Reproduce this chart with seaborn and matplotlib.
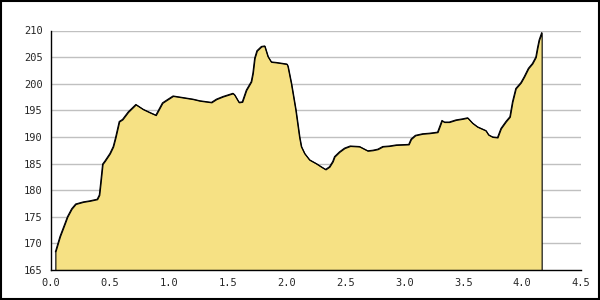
import numpy as np
import pandas as pd
import matplotlib
matplotlib.use("Agg")
import matplotlib.pyplot as plt
import seaborn as sns
from matplotlib.patches import Rectangle
from matplotlib.ticker import MultipleLocator

distance = [0.037, 0.076, 0.119, 0.139, 0.175, 0.209, 0.274, 0.33, 0.392, 0.41,
            0.421, 0.438, 0.458, 0.5, 0.528, 0.548, 0.579, 0.607, 0.655, 0.72,
            0.782, 0.839, 0.89, 0.946, 0.98, 1.036, 1.093, 1.206, 1.263, 1.362,
            1.404, 1.46, 1.545, 1.559, 1.596, 1.624, 1.658, 1.7, 1.714, 1.729,
            1.748, 1.786, 1.814, 1.842, 1.87, 1.913, 2.003, 2.011, 2.04, 2.078,
            2.11, 2.125, 2.153, 2.195, 2.252, 2.294, 2.331, 2.364, 2.392, 2.407,
            2.449, 2.492, 2.54, 2.619, 2.689, 2.731, 2.774, 2.816, 2.873, 2.93,
            3.037, 3.057, 3.093, 3.155, 3.212, 3.282, 3.319, 3.339, 3.381, 3.438,
            3.494, 3.537, 3.579, 3.621, 3.692, 3.715, 3.749, 3.791, 3.82, 3.862,
            3.896, 3.918, 3.946, 3.989, 4.017, 4.053, 4.087, 4.116, 4.13, 4.144,
            4.166]
elevation = [168.4, 171.3, 173.8, 175.0, 176.5, 177.4, 177.8, 178.0, 178.3, 179.1,
             181.3, 184.9, 185.5, 186.9, 188.2, 189.9, 192.9, 193.3, 194.7, 196.1,
             195.2, 194.6, 194.1, 196.4, 196.9, 197.7, 197.5, 197.1, 196.8, 196.5,
             197.1, 197.6, 198.2, 197.9, 196.5, 196.6, 198.8, 200.4, 202.0, 204.8,
             206.2, 207.0, 207.1, 205.1, 204.1, 204.0, 203.7, 203.3, 200.1, 195.1,
             190.0, 188.2, 186.9, 185.7, 185.0, 184.4, 183.9, 184.4, 185.4, 186.3,
             187.2, 187.9, 188.3, 188.2, 187.4, 187.5, 187.7, 188.2, 188.3, 188.5,
             188.6, 189.6, 190.3, 190.6, 190.7, 190.9, 193.1, 192.8, 192.8, 193.2,
             193.4, 193.6, 192.6, 191.9, 191.2, 190.4, 190.0, 189.9, 191.6, 192.9,
             193.8, 196.6, 199.1, 200.2, 201.3, 202.9, 203.8, 205.0, 206.7, 208.2,
             209.6]
x_ticks = [0.0, 0.5, 1.0, 1.5, 2.0, 2.5, 3.0, 3.5, 4.0, 4.5]
y_ticks = [165, 170, 175, 180, 185, 190, 195, 200, 205, 210]

df = pd.DataFrame({"distance": distance, "elevation": elevation})

sns.set_style("white")
plt.rcParams["font.family"] = ["DejaVu Sans Mono", "DejaVu Sans"]

fig = plt.figure(figsize=(6, 3), dpi=100)
ax = fig.add_axes([51 / 600, 30 / 300, 530 / 600, 239.5 / 300])

ax.set_xlim(0, 4.5)
ax.set_ylim(165, 210)

for yv in y_ticks[1:]:
    ax.axhline(yv, color="#c0c0c0", lw=1, zorder=0)

ax.fill_between(df["distance"], df["elevation"], 165, facecolor="#f6e184",
                edgecolor="black", linewidth=0.8, zorder=2)
sns.lineplot(data=df, x="distance", y="elevation", color="black", lw=0.8,
             ax=ax, zorder=3, estimator=None, sort=True)

ax.set_xticks(x_ticks)
ax.set_xticklabels([f"{v:.1f}" for v in x_ticks])
ax.set_yticks(y_ticks)
ax.set_yticklabels([str(v) for v in y_ticks])
ax.yaxis.set_minor_locator(MultipleLocator(1))
ax.tick_params(axis="both", which="major", direction="in", length=4, width=0.8,
               color="black", labelsize=7.5, pad=6)
ax.tick_params(axis="y", which="minor", direction="in", length=2, width=0.8,
               color="black")
ax.tick_params(axis="x", which="minor", length=0)
ax.set_xlabel("")
ax.set_ylabel("")

for s in ["top", "right"]:
    ax.spines[s].set_visible(False)
for s in ["left", "bottom"]:
    ax.spines[s].set_color("black")
    ax.spines[s].set_linewidth(1)

fig.patches.append(Rectangle((0.001, 0.002), 0.997, 0.996, transform=fig.transFigure,
                             fill=False, edgecolor="black", linewidth=1.5))

fig.savefig("out.png", dpi=100, facecolor="white")
